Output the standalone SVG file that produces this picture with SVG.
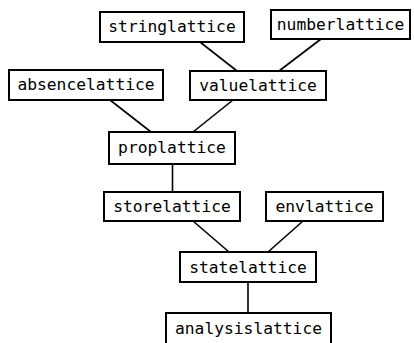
<svg xmlns="http://www.w3.org/2000/svg" width="414" height="343" viewBox="0 0 414 343">
<style>
.n rect{fill:#fff;stroke:#000;stroke-width:2}
.n text{font-family:"DejaVu Sans Mono","Liberation Mono",monospace;font-size:16.3px;text-anchor:middle;fill:#000}
#edges line{stroke:#000;stroke-width:1.6}
</style>
<rect width="414" height="343" fill="#fff"/>
<g id="edges">
<line x1="200" y1="42" x2="237" y2="71"/>
<line x1="321" y1="39" x2="279" y2="71"/>
<line x1="110" y1="100" x2="151" y2="132"/>
<line x1="233" y1="100" x2="193" y2="132"/>
<line x1="172.5" y1="164" x2="172.5" y2="192"/>
<line x1="193" y1="221" x2="229" y2="252"/>
<line x1="303" y1="221" x2="268" y2="252"/>
<line x1="248" y1="282" x2="248" y2="313"/>
</g>
<g id="stringlattice" class="n"><rect x="100" y="12" width="144" height="30"/><text x="172" y="32">stringlattice</text></g>
<g id="numberlattice" class="n"><rect x="271" y="10" width="139" height="29"/><text x="340.5" y="30">numberlattice</text></g>
<g id="absencelattice" class="n"><rect x="9" y="70" width="154" height="30"/><text x="86" y="90">absencelattice</text></g>
<g id="valuelattice" class="n"><rect x="190" y="71" width="136" height="29"/><text x="258" y="91">valuelattice</text></g>
<g id="proplattice" class="n"><rect x="109" y="132" width="126" height="32"/><text x="172" y="153">proplattice</text></g>
<g id="storelattice" class="n"><rect x="104" y="192" width="136" height="29"/><text x="172" y="212">storelattice</text></g>
<g id="envlattice" class="n"><rect x="266" y="192" width="117" height="29"/><text x="324.5" y="212">envlattice</text></g>
<g id="statelattice" class="n"><rect x="180" y="252" width="136" height="30"/><text x="248" y="273">statelattice</text></g>
<g id="analysislattice" class="n"><rect x="166" y="313" width="165" height="32"/><text x="248.5" y="334">analysislattice</text></g>
</svg>
